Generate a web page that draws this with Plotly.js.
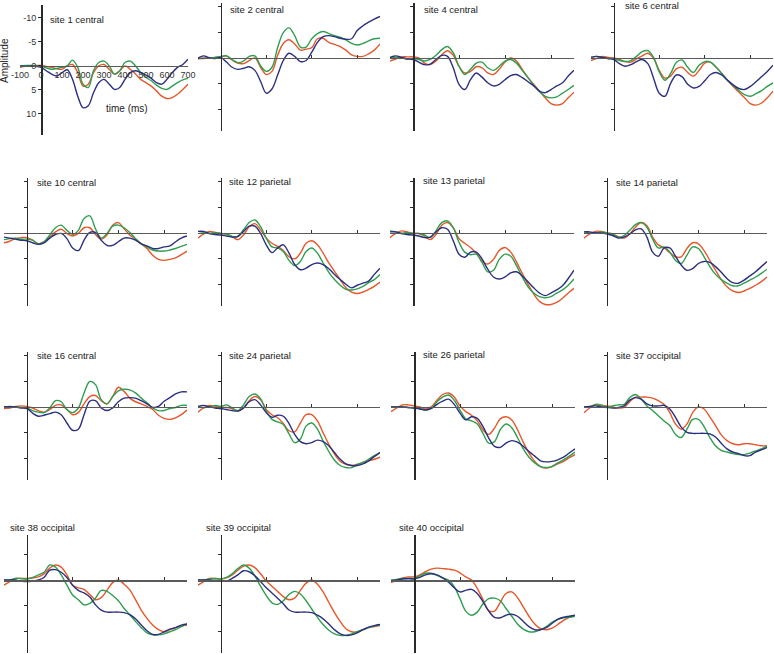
<!DOCTYPE html>
<html>
<head>
<meta charset="utf-8">
<script src="https://cdn.plot.ly/plotly-3.0.1.min.js"></script>
<style>html,body{margin:0;padding:0;background:#fff;}#chart{width:774px;height:654px;}</style>
</head>
<body>
<div id="chart"></div>
<script>
// ---------- DATA ----------
const timeMs = [-100,-75,-50,-25,0,25,50,75,100,125,150,175,200,225,250,275,300,325,350,375,400,425,450,475,500,525,550,575,600,625,650,675,700];
const siteTitles = ["site 1 central","site 2 central","site 4 central","site 6 central",
  "site 10 central","site 12 parietal","site 13 parietal","site 14 parietal",
  "site 16 central","site 24 parietal","site 26 parietal","site 37 occipital",
  "site 38 occipital","site 39 occipital","site 40 occipital"];
const xTickLabels = ["-100","0","100","200","300","400","500","600","700"];
const yTickLabels = ["-10","-5","0","5","10"];

const s1_blue  = [0,0.1,0,0.1,0.3,1.0,1.7,2.1,1.4,0.8,2.8,6.3,8.7,8.3,5.6,3.5,2.8,3.8,4.9,4.5,2.8,1.4,1.0,1.4,1.9,2.6,3.5,3.8,2.8,1.4,0.3,-0.3,-1.4];
const s1_red   = [0.3,0.1,0,-0.1,-0.1,0.1,0.3,0.6,0.7,0,-0.3,1.4,4.2,3.8,1.4,0,-0.3,0.7,1.7,1.0,0,0.7,1.7,2.8,3.5,4.2,5.2,6.3,6.8,6.6,5.9,4.9,3.8];
const s1_green = [0,-0.1,-0.1,0,0,0.4,0.7,0.5,0.3,0,-1.2,0.3,3.8,4.5,1.0,-0.7,-1.0,0,1.7,1.0,-0.7,-1.0,0,1.4,2.4,3.1,4.0,4.7,4.9,4.2,3.5,2.9,2.6];

const s2_blue  = [0,-0.4,0,0.1,-0.1,0.8,1.8,2.2,2.0,1.7,2.4,4.5,6.8,6.0,3.3,0.5,-0.9,-0.3,0.7,0.5,-1.1,-3.0,-4.1,-4.3,-4.1,-3.8,-3.6,-3.7,-5.3,-6.2,-6.9,-7.5,-8.0];
const s2_red   = [0.2,0,0,-0.1,-0.2,-0.4,0.4,1.0,1.1,0.5,0.0,1.8,3.2,2.6,-0.5,-2.8,-3.5,-2.7,-1.5,-1.7,-2.0,-3.7,-3.8,-3.0,-2.6,-2.2,-1.5,-0.6,-0.3,-0.3,-0.8,-1.5,-2.7];
const s2_green = [0,0.1,0,-0.1,-0.3,-0.4,0.3,0.9,0.6,-0.3,-0.4,1.5,2.6,1.8,-2.0,-4.9,-5.8,-4.3,-2.1,-2.1,-3.7,-4.7,-5.1,-4.7,-4.3,-4.0,-3.5,-2.8,-2.5,-2.8,-3.3,-3.7,-3.8];

const s4_blue  = [-0.1,-0.4,-0.1,0.2,0.3,0.8,1.3,1.2,0.3,-0.5,-0.3,1.9,5.1,6.1,4.2,2.9,3.7,4.8,5.4,5.1,4.2,3.4,3.2,3.8,4.6,5.4,6.4,6.7,6.1,5.4,4.8,3.5,2.4];
const s4_red   = [0.6,0.2,-0.2,-0.2,-0.2,0,1.0,1.3,0.6,-0.6,-1.4,-0.5,1.6,2.9,2.6,1.7,1.9,2.9,3.2,2.2,0.8,0,0.6,2.2,3.8,5.1,6.4,7.7,8.8,9.1,8.8,7.7,6.6];
const s4_green = [-0.1,-0.1,0,0.2,0.1,0.3,0.6,0.3,-0.5,-1.6,-2.2,-1.0,1.6,3.2,2.2,1.0,0.8,1.9,2.4,1.6,0.6,0.3,1.0,2.4,3.8,5.3,6.5,7.4,7.7,7.5,6.8,6.1,5.3];

const s6_blue  = [-0.1,-0.3,-0.1,0.1,0.3,1.1,1.6,1.3,0.7,0.3,1.1,3.9,6.8,7.4,4.9,3.3,3.6,5.1,5.8,5.5,4.4,3.2,2.8,3.3,4.3,5.2,5.9,6.1,5.5,4.6,3.6,2.6,1.4];
const s6_red   = [0.5,0.1,-0.3,-0.1,0,0.3,0.7,0.8,0.2,-0.4,-0.9,0.1,2.4,3.9,3.5,2.1,1.8,2.8,3.5,2.4,1.0,0.8,1.8,3.0,4.3,5.5,6.6,7.7,8.8,9.1,8.7,7.7,6.4];
const s6_green = [-0.1,-0.3,-0.1,0.1,0.1,0.5,0.7,0.5,-0.3,-1.2,-1.4,-0.1,2.7,4.3,3.0,0.9,0.4,1.8,2.8,1.4,0.7,0.8,1.8,3.0,4.3,5.3,6.3,7.1,7.4,6.9,6.3,5.5,4.8];

const s10_blue  = [0.8,1.0,1.2,1.4,1.5,1.9,2.2,1.9,1.0,0.3,0.1,1.1,2.9,3.4,1.4,-0.1,-0.1,1.4,2.4,2.4,1.7,1.0,1.0,1.4,2.1,2.5,3.0,3.0,2.7,2.5,1.7,1.0,0.6];
const s10_red   = [1.9,1.6,1.1,0.9,0.9,1.4,2.1,1.7,0.8,-0.2,-0.7,0.1,0.6,0.1,-1.0,-1.0,0.3,1.2,0.4,-1.5,-2.0,-0.8,0.4,1.2,2.1,3.0,4.3,5.1,5.3,5.1,4.8,4.2,3.5];
const s10_green = [1.3,1.1,1.0,1.2,1.2,1.4,2.1,1.7,0.4,-1.0,-1.5,-0.5,0.3,-0.5,-2.8,-3.3,-0.8,1.0,0.1,-1.3,-1.5,-1.0,-0.1,1.1,2.1,2.7,3.3,3.5,3.5,3.3,3.0,2.6,2.2];

const s12_blue  = [-0.3,-0.3,0.1,0.3,0.4,0.6,0.8,0.7,-0.3,-1.3,-1.3,0.1,2.3,3.8,2.9,2.3,3.9,6.1,7.1,6.8,6.1,5.8,6.1,6.9,8.0,9.0,9.9,10.6,10.1,9.7,9.3,8.0,6.8];
const s12_red   = [1.0,0.2,-0.3,-0.1,0.1,0.2,0.7,1.3,0.4,-1.2,-1.8,-0.6,1.0,2.0,2.6,3.4,4.6,5.0,3.9,2.0,1.5,2.3,3.9,5.8,7.4,9.0,10.6,11.4,11.7,11.4,10.9,10.3,9.5];
const s12_green = [-0.3,-0.1,0.1,-0.1,0.1,0.2,0.7,0.6,-0.6,-2.0,-2.5,-1.2,1.0,2.7,2.9,3.6,5.3,6.3,5.5,3.6,2.9,3.9,5.8,7.6,9.0,10.1,10.9,11.0,10.8,10.3,9.6,9.0,8.0];

const s13_blue  = [-0.2,-0.2,0.1,0.3,0.4,0.6,0.9,0.8,-0.2,-1.0,-0.7,1.5,4.1,4.7,3.7,3.7,5.0,7.0,8.5,8.9,8.5,7.7,7.5,8.3,9.4,10.6,11.6,12.1,11.6,11.0,10.2,8.8,7.2];
const s13_red   = [0.9,0.1,-0.4,-0.2,0.1,0.1,0.6,1.3,0.3,-1.5,-2.0,-1.0,1.1,2.0,2.8,3.9,5.4,6.0,5.1,3.4,2.8,3.7,5.6,7.8,9.9,11.8,13.2,13.8,13.8,13.4,12.6,11.6,10.7];
const s13_green = [-0.4,-0.2,0.1,-0.1,0.1,0.1,0.4,0.9,-0.4,-2.0,-2.3,-1.0,1.8,3.7,4.2,4.1,5.7,7.5,7.2,5.1,4.1,4.5,6.3,8.5,10.4,11.6,12.3,12.5,12.3,11.6,11.0,10.1,8.9];

const s14_blue  = [-0.2,-0.2,0,0,0.2,0.5,1.0,0.8,0.2,-0.6,-0.8,0.8,3.7,4.5,2.9,2.9,4.5,6.2,7.2,6.9,5.9,5.5,5.7,6.5,7.6,8.8,9.6,9.7,9.1,8.3,7.5,6.5,5.5];
const s14_red   = [1.0,0.2,-0.3,-0.3,0,0.2,0.7,1.0,0.2,-1.1,-2.0,-1.4,0.8,2.3,2.9,3.8,4.6,4.6,3.0,1.9,2.1,3.4,5.3,7.2,9.0,10.4,11.2,11.5,11.2,10.7,10.1,9.4,8.5];
const s14_green = [-0.2,0,0,-0.2,0,0.2,0.8,0.5,-0.5,-1.6,-2.0,-1.1,1.2,2.9,2.7,3.7,5.3,5.9,4.3,2.7,3.0,4.6,6.5,8.0,9.0,9.7,10.2,10.2,9.7,9.1,8.5,7.8,7.0];

const s16_blue  = [0,-0.1,0,0.2,0.3,1.2,1.8,1.6,1.3,1.0,1.5,3.1,4.5,4.3,1.5,-1.1,-1.2,0.2,0.7,0.2,-1.0,-1.7,-1.8,-1.7,-1.2,-0.6,0.1,-0.1,-1.1,-1.8,-2.5,-2.9,-2.9];
const s16_red   = [0.3,0.2,-0.1,-0.2,-0.1,0.2,0.7,1.0,0.5,-0.3,-0.4,0.5,1.5,1.1,-0.6,-2.0,-2.2,-1.2,-0.6,-2.0,-3.8,-3.0,-1.7,-1.0,-0.6,-0.1,0.5,1.6,2.2,2.4,2.1,1.5,0.6];
const s16_green = [-0.1,0.1,0,0.1,0.2,0.7,1.0,1.1,0.2,-1.2,-1.0,0.5,1.1,0.2,-2.7,-4.9,-4.3,-1.4,-0.6,-2.0,-3.1,-3.4,-3.3,-2.7,-1.7,-0.8,0.2,0.7,0.7,0.3,0.1,-0.3,-0.3];

const s24_blue  = [-0.1,-0.3,0,0.2,0.3,0.5,0.7,0.8,0.2,-1.0,-1.4,-0.4,1.1,2.0,1.6,1.8,3.2,5.3,6.7,7.1,6.9,6.4,6.7,7.5,8.8,10.1,11.0,11.3,11.3,11.0,10.4,9.6,8.8];
const s24_red   = [1.0,0.2,-0.3,-0.1,0,0.1,0.3,0.8,0.2,-1.2,-2.0,-1.4,0.5,1.5,2.1,3.2,4.6,4.8,3.1,1.5,1.5,2.7,5.0,7.2,9.1,10.5,11.1,11.3,11.1,10.7,10.4,10.1,9.7];
const s24_green = [-0.1,0.1,0,-0.3,-0.1,-0.4,0.2,0.7,-0.4,-2.0,-2.5,-1.6,0.8,2.4,2.9,3.4,5.2,6.9,6.2,3.7,3.1,4.3,6.6,8.6,10.3,11.3,11.7,11.7,11.1,10.7,10.1,9.4,8.8];

const s26_blue  = [0,0,0,0.1,0.2,0.4,0.6,0.3,-0.5,-1.1,-1.5,-0.5,1.2,2.5,1.9,2.2,3.8,6.0,7.6,7.8,7.0,6.5,6.8,7.6,8.6,9.5,10.4,10.6,10.5,10.2,9.7,8.9,8.1];
const s26_red   = [0.9,0.2,-0.4,-0.4,-0.2,0,0.4,0,-1.3,-2.4,-2.7,-1.9,-0.2,0.9,1.6,2.7,4.4,5.3,4.1,2.3,1.9,2.5,4.4,6.8,8.9,10.5,11.5,11.8,11.5,11.0,10.5,9.8,9.2];
const s26_green = [0,0,0,0.1,0.2,0.3,0.6,0.3,-1.0,-1.9,-2.3,-1.3,0.6,2.3,2.7,3.3,5.1,7.0,6.7,4.4,3.3,4.0,5.9,8.1,9.7,10.8,11.5,11.7,11.5,10.8,10.2,9.5,8.7];

const s37_blue  = [0,-0.1,-0.2,0,0.1,0.2,0.1,-0.2,-1.3,-1.8,-1.5,-0.6,-0.2,-0.2,-0.3,0.4,2.0,3.9,4.9,5.1,5.1,5.1,5.2,5.8,7.0,8.1,8.7,9.0,9.4,9.4,8.7,8.3,7.8];
const s37_red   = [1.1,0.2,-0.4,-0.2,-0.2,0,0.2,0.1,-1.0,-1.9,-1.9,-1.9,-1.7,-1.2,-0.5,1.1,3.3,4.3,3.3,1.1,0,0.4,1.9,3.6,5.4,6.5,7.1,7.3,7.1,7.1,7.3,7.5,7.5];
const s37_green = [0,0,-0.5,-0.4,0,-0.2,-0.4,-0.5,-1.8,-2.4,-1.5,-0.2,0.7,1.7,2.7,3.6,5.3,5.9,4.3,2.4,2.4,3.8,5.9,7.5,8.4,8.7,9.0,9.2,9.2,8.9,8.5,8.1,7.5];

const s38_blue  = [0,0,0,0.2,0.3,0.2,0,-0.5,-1.9,-2.0,-1.5,-0.5,1.0,2.0,2.5,3.3,4.8,5.8,6.2,6.2,6.2,6.3,6.7,7.5,8.7,9.8,10.5,10.5,10.0,9.5,9.2,8.7,8.5];
const s38_red   = [1.0,0.3,-0.3,-0.3,-0.3,-0.4,-0.6,-1.2,-2.3,-2.9,-2.5,-1.0,1.0,1.5,1.8,2.8,3.8,3.4,2.0,0.5,0,0.8,1.9,3.8,5.8,7.4,8.7,9.6,10.0,9.6,9.2,8.9,8.7];
const s38_green = [0,0,-0.3,-0.3,-0.2,-0.5,-1.0,-1.5,-2.9,-2.5,-1.0,1.0,2.9,3.8,4.8,4.5,3.5,2.0,2.2,3.0,4.0,5.5,6.7,8.0,9.2,10.2,10.6,10.6,10.4,10.0,9.6,9.0,8.5];

const s39_blue  = [0,0,0,0.1,0.2,0.2,-0.3,-1.0,-1.8,-1.6,-0.8,0.3,1.5,2.5,3.5,4.6,5.8,6.2,6.2,6.2,6.3,6.8,7.5,8.5,9.6,10.4,10.7,10.6,10.2,9.6,9.1,8.8,8.6];
const s39_red   = [1.0,0.3,-0.3,-0.3,-0.2,-0.4,-1.0,-1.9,-2.7,-2.9,-2.4,-1.2,0.2,1.2,2.2,3.2,3.8,3.5,2.0,0.6,0,0.8,2.3,4.3,6.3,8.0,9.4,10.0,10.0,9.6,9.2,9.0,8.8];
const s39_green = [0,0,-0.2,-0.3,-0.2,-0.5,-1.2,-2.2,-2.9,-2.3,-0.8,1.2,3.0,4.4,4.7,4.0,2.8,2.2,2.7,4.0,5.6,7.2,8.6,9.7,10.4,10.7,10.7,10.4,10.0,9.6,9.2,8.9,8.7];

const s40_blue  = [0.2,0,-0.2,-0.3,-0.2,-0.5,-1.0,-1.2,-1.0,-0.4,0.4,1.5,2.3,2.0,1.8,2.6,4.2,6.0,7.2,7.3,6.8,6.6,7.0,8.0,9.0,9.6,9.6,9.2,8.4,7.6,7.2,7.0,6.8];
const s40_red   = [0.5,0,-0.4,-0.6,-0.6,-1.0,-1.6,-2.1,-2.3,-2.2,-2.1,-1.9,-1.4,-0.6,0,1.6,3.8,5.9,6.0,4.3,2.6,2.3,3.4,5.2,7.0,8.5,9.4,9.6,9.3,8.6,7.8,7.2,6.9];
const s40_green = [0,-0.1,-0.3,-0.3,-0.3,-0.8,-1.3,-1.3,-0.9,-0.4,0,1.3,3.6,6.0,6.8,6.2,4.6,3.6,3.5,4.0,5.5,7.0,8.5,9.5,10.0,10.0,9.6,9.0,8.2,7.6,7.3,7.2,7.0];

const seriesBlue  = [s1_blue,s2_blue,s4_blue,s6_blue,s10_blue,s12_blue,s13_blue,s14_blue,s16_blue,s24_blue,s26_blue,s37_blue,s38_blue,s39_blue,s40_blue];
const seriesRed   = [s1_red,s2_red,s4_red,s6_red,s10_red,s12_red,s13_red,s14_red,s16_red,s24_red,s26_red,s37_red,s38_red,s39_red,s40_red];
const seriesGreen = [s1_green,s2_green,s4_green,s6_green,s10_green,s12_green,s13_green,s14_green,s16_green,s24_green,s26_green,s37_green,s38_green,s39_green,s40_green];

// ---------- LAYOUT GEOMETRY (pixels) ----------
const W = 774, H = 654;
// [left px of -100 ms, right px of 700 ms, top px, bottom px, title left px, title center y px, y range top value]
const panels = [
  [20, 188, 5, 135, 48, 20, -12.7],
  [198, 380, 3, 131, 228, 10, -10.6],
  [390, 574, 3, 131, 422, 9, -10.6],
  [591, 773, 3, 131, 623, 6, -10.6],
  [4, 187, 178, 306, 35, 182, -10.6],
  [198, 380, 178, 306, 227, 181, -10.6],
  [390, 574, 178, 306, 421, 180, -10.6],
  [584, 767, 178, 306, 614, 182, -10.6],
  [4, 187, 352, 480, 35, 355, -10.6],
  [198, 380, 352, 480, 227, 355, -10.6],
  [391, 575, 352, 480, 421, 354, -10.6],
  [584, 767, 352, 480, 614, 355, -10.6],
  [4, 187, 535, 653, 8, 527, -8.7],
  [198, 380, 535, 653, 204, 527, -8.7],
  [391, 575, 535, 653, 397, 527, -8.7]
];

const colBlue = '#2b2f80', colRed = '#e8572b', colGreen = '#2e9e4f';
const traces = [];
const layout = {
  width: W, height: H,
  margin: {l:0, r:0, t:0, b:0},
  paper_bgcolor: '#fff', plot_bgcolor: 'rgba(0,0,0,0)',
  showlegend: false,
  font: {family: 'Arial, "Liberation Sans", sans-serif', color: '#222', size: 10},
  annotations: []
};

panels.forEach((p, i) => {
  const n = i + 1;
  const sx = n === 1 ? '' : String(n);
  const [xl, xr, top, bot, tx, ty, yTopVal] = p;
  const xr0 = -100, xr1 = 700;
  const yBotVal = n === 1 ? 14.4 : 14.1;
  const yRange = [yBotVal, yTopVal];
  const xdom = [xl / W, xr / W];
  const ydom = [1 - bot / H, 1 - top / H];
  const yAxisPos = xdom[0] + (0 - xr0) / (xr1 - xr0) * (xdom[1] - xdom[0]);
  const xAxisPos = ydom[0] + (0 - yRange[0]) / (yRange[1] - yRange[0]) * (ydom[1] - ydom[0]);

  [[seriesRed[i], colRed], [seriesGreen[i], colGreen], [seriesBlue[i], colBlue]].forEach(([ys, c]) => {
    traces.push({
      x: timeMs, y: ys, xaxis: 'x' + sx, yaxis: 'y' + sx,
      type: 'scatter', mode: 'lines',
      line: {color: c, width: 1.4, shape: 'spline', smoothing: 1},
      hoverinfo: 'skip', showlegend: false, cliponaxis: false
    });
  });

  const isFirst = n === 1;
  const yt = isFirst ? [-10,-5,0,5,10] : (yTopVal > -10 ? [-5,5,10] : [-10,-5,5,10]);
  layout['xaxis' + sx] = {
    domain: xdom, range: [xr0, xr1], anchor: 'free', position: xAxisPos,
    showgrid: false, zeroline: false, showline: true, linecolor: '#5a5a5a', linewidth: 1.5,
    ticks: isFirst ? '' : 'inside', ticklen: 3, tickcolor: '#333', tickwidth: 1,
    tickmode: 'array',
    tickvals: isFirst ? [-100,0,100,200,300,400,500,600,700] : [200,400,600],
    ticktext: isFirst ? xTickLabels : ['','',''],
    showticklabels: isFirst, tickfont: {size: 9, color: '#333'},
    fixedrange: true
  };
  layout['yaxis' + sx] = {
    domain: ydom, range: yRange, anchor: 'free', position: yAxisPos,
    showgrid: false, zeroline: false, showline: true, linecolor: '#2a2a2a', linewidth: 1.5,
    ticks: 'outside', ticklen: 3, tickcolor: '#2a2a2a', tickwidth: 1,
    tickmode: 'array',
    tickvals: yt,
    ticktext: isFirst ? yTickLabels : yt.map(() => ''),
    showticklabels: isFirst, tickfont: {size: 9, color: '#333'},
    fixedrange: true
  };
  layout.annotations.push({
    text: siteTitles[i], xref: 'paper', yref: 'paper',
    x: tx / W, y: 1 - ty / H, xanchor: 'left', yanchor: 'middle',
    showarrow: false, font: {size: 9.5, color: '#222'}
  });
});

layout.annotations.push({
  text: 'Amplitude', xref: 'paper', yref: 'paper', x: 5 / W, y: 1 - 61 / H,
  xanchor: 'center', yanchor: 'middle', textangle: -90, showarrow: false,
  font: {size: 10, color: '#222'}
});
layout.annotations.push({
  text: 'time (ms)', xref: 'paper', yref: 'paper', x: 127 / W, y: 1 - 108 / H,
  xanchor: 'center', yanchor: 'middle', showarrow: false,
  font: {size: 10, color: '#222'}
});

Plotly.newPlot('chart', traces, layout, {staticPlot: true, displayModeBar: false});
</script>
</body>
</html>
